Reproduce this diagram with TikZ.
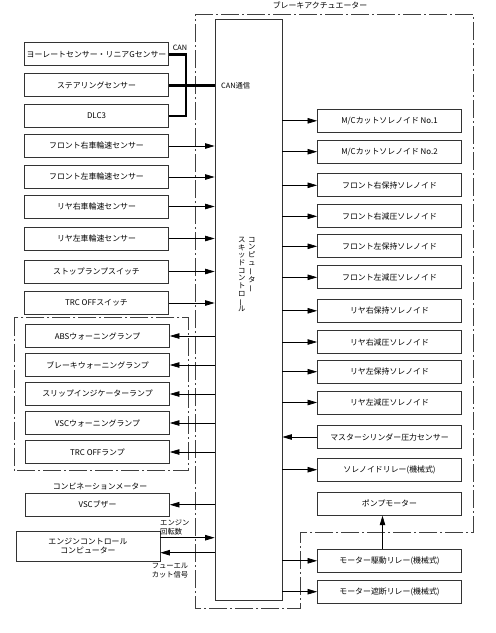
\documentclass[tikz,border=0pt]{standalone}
\usepackage{fontspec}
\setmainfont{Noto Sans CJK JP}
\usetikzlibrary{arrows.meta}
\newcommand{\vbar}{\rotatebox[origin=c]{90}{ー}}
\begin{document}
\begin{tikzpicture}[x=1pt,y=-1pt,
  every node/.style={font=\fontsize{7.9}{9.3}\selectfont, inner sep=0pt},
  box/.style={draw=black!80, line width=0.8pt, minimum width=144pt, minimum height=23pt, align=center},
  arr/.style={line width=0.7pt, -{Triangle[length=9.5pt,width=5.5pt]}},
  can/.style={line width=2.6pt},
  dashdot/.style={line width=0.8pt, draw=black!75, dash pattern=on 18pt off 3pt on 2pt off 3pt},
  lbl/.style={font=\fontsize{7.3}{8.8}\selectfont, align=left}]
\useasboundingbox (0,0) rectangle (496,633);
% boundaries
\draw[dashdot] (195,14) -- (473,14) -- (473,532) -- (300,532) -- (300,608) -- (195,608) -- cycle;
\draw[dashdot] (14.3,317.7) rectangle (188.3,470.7);
\node (title) at (320,5) {ブレーキアクチュエーター};
\node (combi) at (100,486) {コンビネーションメーター};
% computer
\node[draw=black!80, line width=0.8pt, minimum width=67pt, minimum height=581pt] (comp) at (248.5,309.5) {};
\node[anchor=north, align=center, font=\fontsize{7.4}{7.7}\selectfont] (vt1) at (251.7,237) {コ\\ン\\ピ\\ュ\\\vbar\\タ\\\vbar};
\node[anchor=north, align=center, font=\fontsize{7.4}{7.7}\selectfont] (vt2) at (241.7,237) {ス\\キ\\ッ\\ド\\コ\\ン\\ト\\ロ\\\vbar\\ル};
% left sensors
\node[box] (yaw) at (96.5,54.3) {ヨーレートセンサー・リニアGセンサー};
\node[box] (steer) at (96.5,85.3) {ステアリングセンサー};
\node[box] (dlc) at (96.5,116) {DLC3};
\node[box] (fr) at (96.5,146) {フロント右車輪速センサー};
\node[box] (fl) at (96.5,177) {フロント左車輪速センサー};
\node[box] (rr) at (96.5,206.5) {リヤ右車輪速センサー};
\node[box] (rl) at (96.5,238.5) {リヤ左車輪速センサー};
\node[box] (stop) at (96.5,271.5) {ストップランプスイッチ};
\node[box] (trcs) at (96.5,303) {TRC OFFスイッチ};
% lamps
\node[box] (abs) at (97.5,336) {ABSウォーニングランプ};
\node[box] (brk) at (97.5,365) {ブレーキウォーニングランプ};
\node[box] (slip) at (97.5,394) {スリップインジケーターランプ};
\node[box] (vscw) at (97.5,423) {VSCウォーニングランプ};
\node[box] (trcl) at (97.5,452) {TRC OFFランプ};
\node[box] (buzz) at (97.5,504.7) {VSCブザー};
\node[box, minimum height=30pt] (eng) at (88,546) {エンジンコントロール\\コンピューター};
% right boxes
\node[box] (mc1) at (389.5,120.8) {M/Cカットソレノイド No.1};
\node[box] (mc2) at (389.5,151.7) {M/Cカットソレノイド No.2};
\node[box] (frh) at (389.5,185.3) {フロント右保持ソレノイド};
\node[box] (frd) at (389.5,216.3) {フロント右減圧ソレノイド};
\node[box] (flh) at (389.5,246.3) {フロント左保持ソレノイド};
\node[box] (fld) at (389.5,277.3) {フロント左減圧ソレノイド};
\node[box] (rrh) at (389.5,310.8) {リヤ右保持ソレノイド};
\node[box] (rrd) at (389.5,342) {リヤ右減圧ソレノイド};
\node[box] (rlh) at (389.5,371.7) {リヤ左保持ソレノイド};
\node[box] (rld) at (389.5,402.5) {リヤ左減圧ソレノイド};
\node[box] (mcs) at (389.5,437) {マスターシリンダー圧力センサー};
\node[box] (sol) at (389.5,469.7) {ソレノイドリレー(機械式)};
\node[box] (pump) at (389.5,503.8) {ポンプモーター};
\node[box] (mdr) at (389.5,560.8) {モーター駆動リレー(機械式)};
\node[box] (mcr) at (389.5,591.7) {モーター遮断リレー(機械式)};
% CAN
\coordinate (canx) at (186,0);
\draw[can] (yaw.east) -- (yaw.east -| canx) -- (dlc.east -| canx) -- (dlc.east);
\draw[can] (steer.east) -- (steer.east -| comp.west);
\node[lbl] (canl) at (180,47.7) {CAN};
\node[lbl, anchor=west] (cant) at (221,85.3) {CAN通信};
% sensor inputs
\foreach \n in {fr,fl,rr,rl,stop,trcs}
  \draw[arr] (\n.east) -- (\n.east -| comp.west);
% lamp outputs
\foreach \n in {abs,brk,slip,vscw,trcl,buzz}
  \draw[arr] (\n.east -| comp.west) -- (\n.east);
% right outputs
\foreach \n in {mc1,mc2,frh,frd,flh,fld,rrh,rrd,rlh,rld,sol,mdr,mcr}
  \draw[arr] (\n.west -| comp.east) -- (\n.west);
\draw[arr] (mcs.west) -- (mcs.west -| comp.east);
% pump
\draw[arr] ([xshift=-7pt]mdr.north) -- ([xshift=-7pt]pump.south);
% engine
\coordinate (e1) at ([yshift=8.3pt]eng.east);
\coordinate (e2) at ([yshift=-6.7pt]eng.east);
\draw[arr] (e1) -- (e1 -| comp.west);
\draw[arr] (e2 -| comp.west) -- (e2);
\node[lbl, anchor=south west] (rpm) at (160,535) {エンジン\\回転数};
\node[lbl, anchor=north, align=center] (fuel) at (170,563) {フューエル\\カット信号};
\end{tikzpicture}
\end{document}
